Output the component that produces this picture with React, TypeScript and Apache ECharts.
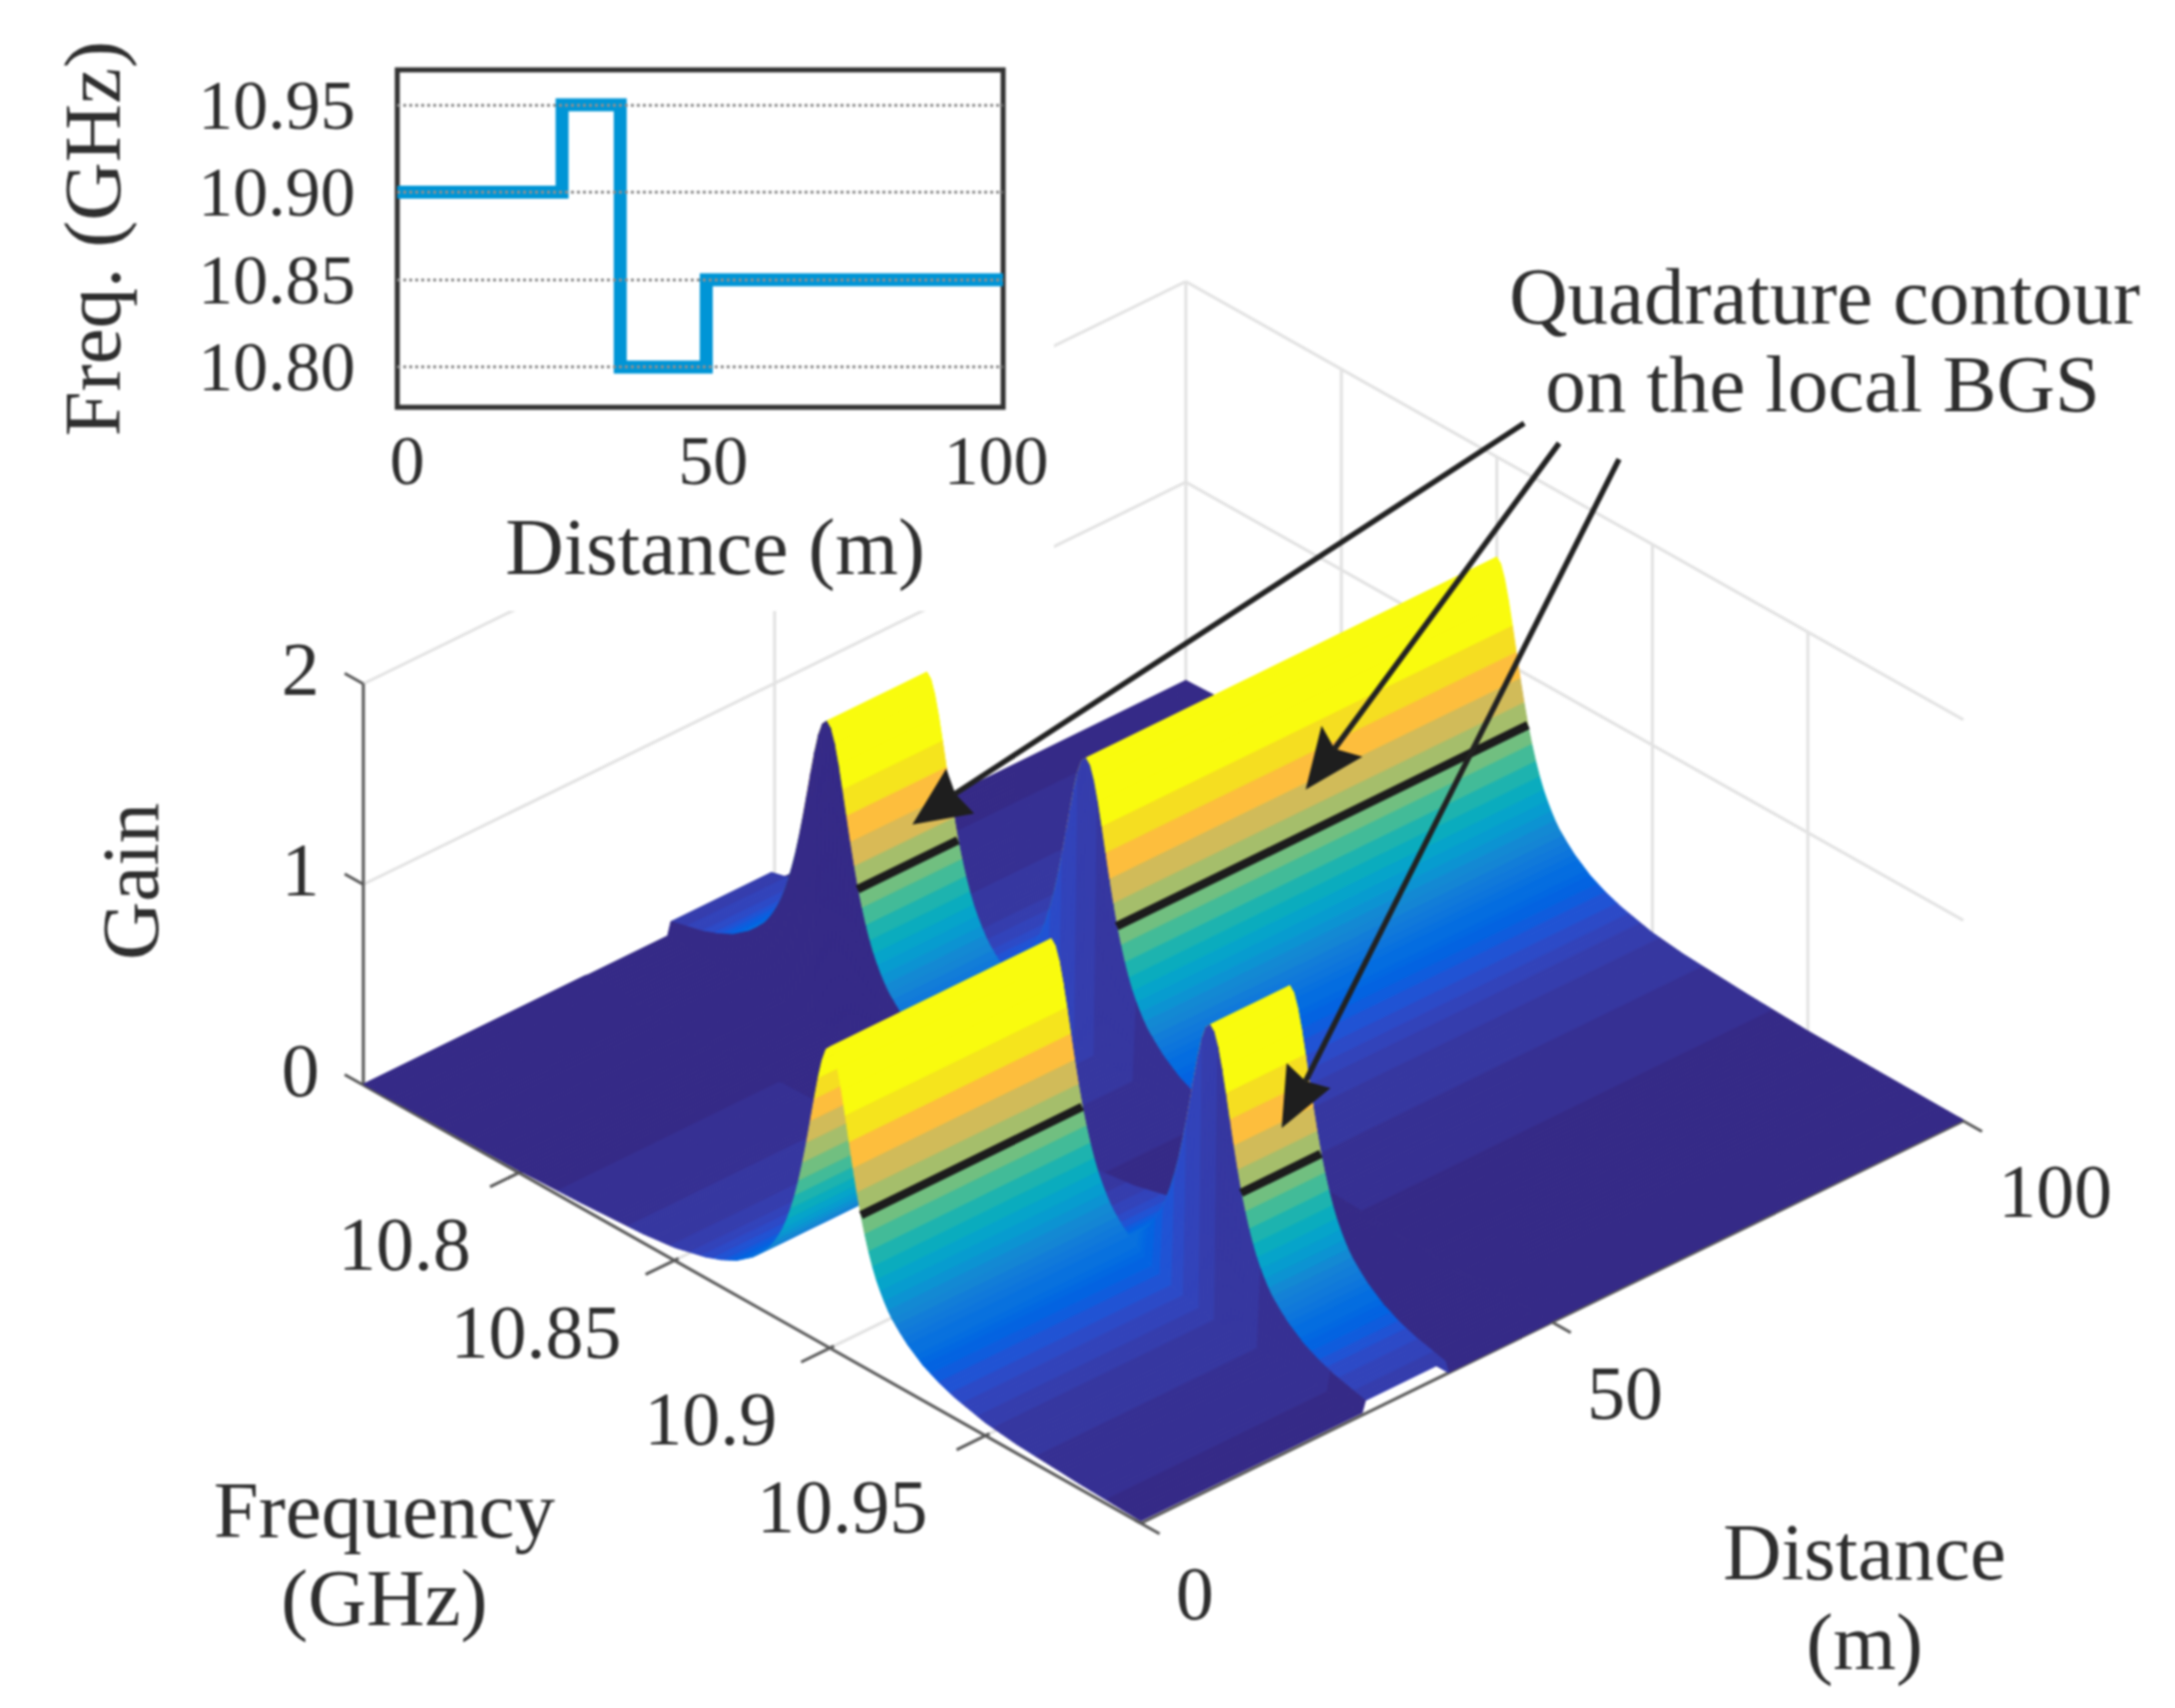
import React, { useEffect, useRef } from "react";
import * as echarts from "echarts";

// ---------- inset: local Brillouin frequency along the fibre ----------
const insetDistance = [0, 27.2, 36.8, 51, 100];
const insetFrequency = [10.9, 10.95, 10.8, 10.85, 10.85];
const insetFreqTicks = [10.8, 10.85, 10.9, 10.95];

// ---------- main surface: one row per fibre position ----------
const rowDistance = [0, 26.9, 27.3, 37, 37.4, 49.6, 50, 100];
const rowCentre = [10.9, 10.9, 10.95, 10.95, 10.8, 10.8, 10.85, 10.85];

// gain profile, against distance from the local centre frequency
const profileOffset = [
  0, 0.00125, 0.0025, 0.00375, 0.005, 0.00625, 0.0075, 0.00875, 0.01, 0.01125, 0.0125, 0.01375, 0.015,
  0.01625, 0.0175, 0.01875, 0.02, 0.0225, 0.025, 0.03, 0.035, 0.04, 0.05, 0.06, 0.08, 0.1, 0.15, 0.2,
];
const profileGain = [
  1.5, 1.477, 1.412, 1.315, 1.2, 1.079, 0.96, 0.85, 0.75, 0.665, 0.59, 0.525, 0.47,
  0.425, 0.385, 0.35, 0.32, 0.275, 0.235, 0.175, 0.135, 0.105, 0.065, 0.045, 0.025, 0.012, 0.005, 0.002,
];

// black quadrature contour segments
const contourStart = [0, 27.3, 37.4, 50];
const contourEnd = [26.9, 37, 49.6, 100];
const contourCentre = [10.9, 10.95, 10.8, 10.85];
const contourOffset = 0.01;
const contourGain = 0.75;

// 3D axis ticks
const freqTicks = [10.8, 10.85, 10.9, 10.95];
const freqTickLabels = ["10.8", "10.85", "10.9", "10.95"];
const freqLabelShift = [5, 0, 0, -5];
const distTicks = [0, 50, 100];
const gainTicks = [0, 1, 2];

const FREQ_MIN = 10.75;
const FREQ_MAX = 11.0;
const FREQ_COLUMNS = 200;
const COLOR_MAX = 1.28;

// MATLAB parula, 64 levels
const parula = [
  [.2081,.1663,.5292],[.2116,.1898,.5777],[.2123,.2138,.6270],[.2081,.2386,.6771],[.1959,.2645,.7279],[.1707,.2919,.7792],
  [.1253,.3242,.8303],[.0591,.3598,.8683],[.0117,.3875,.8820],[.0060,.4086,.8828],[.0165,.4266,.8786],[.0329,.4430,.8720],
  [.0498,.4586,.8641],[.0629,.4737,.8554],[.0723,.4887,.8467],[.0779,.5040,.8384],[.0793,.5200,.8312],[.0749,.5375,.8263],
  [.0641,.5570,.8240],[.0488,.5772,.8228],[.0343,.5966,.8199],[.0265,.6137,.8135],[.0239,.6287,.8038],[.0231,.6418,.7913],
  [.0228,.6535,.7768],[.0267,.6642,.7607],[.0384,.6743,.7436],[.0590,.6838,.7254],[.0843,.6928,.7062],[.1133,.7015,.6859],
  [.1453,.7098,.6646],[.1801,.7177,.6424],[.2178,.7250,.6193],[.2586,.7317,.5954],[.3022,.7376,.5712],[.3482,.7424,.5473],
  [.3953,.7459,.5244],[.4420,.7481,.5033],[.4871,.7491,.4840],[.5300,.7491,.4661],[.5709,.7485,.4494],[.6099,.7473,.4337],
  [.6473,.7456,.4188],[.6834,.7435,.4044],[.7184,.7411,.3905],[.7525,.7384,.3768],[.7858,.7356,.3633],[.8185,.7327,.3498],
  [.8507,.7299,.3360],[.8824,.7274,.3217],[.9139,.7258,.3063],[.9450,.7261,.2886],[.9739,.7314,.2666],[.9938,.7455,.2403],
  [.9990,.7653,.2164],[.9955,.7861,.1967],[.9880,.8066,.1794],[.9789,.8271,.1633],[.9697,.8481,.1475],[.9626,.8705,.1309],
  [.9589,.8949,.1132],[.9598,.9218,.0948],[.9661,.9514,.0755],[.9763,.9831,.0538],
];

const SERIF = "'Liberation Serif', 'Times New Roman', serif";
const INK = "#2e2e2e";
const GRID_LIGHT = "#e2e2e2";
const AXIS_DARK = "#5a5a5a";

function project(f: number, d: number, g: number): number[] {
  const pf = (f - FREQ_MIN) / (FREQ_MAX - FREQ_MIN);
  const pd = d / 100;
  return [364 + pf * 779 + pd * 824, 1087 + pf * 439 - pd * 403 - g * 201];
}

function gainAt(offset: number): number {
  const o = Math.abs(offset);
  for (let k = 1; k < profileOffset.length; k++) {
    if (o <= profileOffset[k] + 1e-9) {
      const t = (o - profileOffset[k - 1]) / (profileOffset[k] - profileOffset[k - 1]);
      return profileGain[k - 1] + t * (profileGain[k] - profileGain[k - 1]);
    }
  }
  return profileGain[profileGain.length - 1];
}

function colorOf(g: number): string {
  const idx = Math.max(0, Math.min(63, Math.floor((g / COLOR_MAX) * 64)));
  const c = parula[idx];
  return `rgb(${Math.round(c[0] * 255)},${Math.round(c[1] * 255)},${Math.round(c[2] * 255)})`;
}

function buildSurfaceItems(): number[][] {
  const items: number[][] = [];
  for (let r = rowDistance.length - 2; r >= 0; r--) {
    for (let c = 0; c < FREQ_COLUMNS; c++) items.push([r, c]);
  }
  return items;
}

function renderSurface(_p: any, api: any) {
  const r = api.value(0);
  const c = api.value(1);
  const step = (FREQ_MAX - FREQ_MIN) / FREQ_COLUMNS;
  const f0 = FREQ_MIN + c * step;
  const f1 = f0 + step;
  const d0 = rowDistance[r];
  const d1 = rowDistance[r + 1];
  const c0 = rowCentre[r];
  const c1 = rowCentre[r + 1];
  const a = gainAt(f0 - c0);
  const pts = [
    project(f0, d0, a),
    project(f1, d0, gainAt(f1 - c0)),
    project(f1, d1, gainAt(f1 - c1)),
    project(f0, d1, gainAt(f0 - c1)),
  ].map((p) => api.coord(p));
  const fill = colorOf(a);
  return { type: "polygon", shape: { points: pts }, style: { fill, stroke: fill, lineWidth: 1 } };
}

function renderFrame(_p: any, api: any) {
  const children: any[] = [];
  const seg = (a: number[], b: number[], stroke: string, lineWidth: number) => {
    const p = api.coord(a);
    const q = api.coord(b);
    children.push({
      type: "line",
      shape: { x1: p[0], y1: p[1], x2: q[0], y2: q[1] },
      style: { stroke, lineWidth },
    });
  };
  // back walls and floor grid
  for (const g of [1, 2]) {
    seg(project(FREQ_MIN, 0, g), project(FREQ_MIN, 100, g), GRID_LIGHT, 3);
    seg(project(FREQ_MIN, 100, g), project(FREQ_MAX, 100, g), GRID_LIGHT, 3);
  }
  for (const d of distTicks) {
    seg(project(FREQ_MIN, d, 0), project(FREQ_MIN, d, 2), GRID_LIGHT, 3);
    seg(project(FREQ_MIN, d, 0), project(FREQ_MAX, d, 0), GRID_LIGHT, 3);
  }
  for (const f of freqTicks) {
    seg(project(f, 100, 0), project(f, 100, 2), GRID_LIGHT, 3);
    seg(project(f, 0, 0), project(f, 100, 0), GRID_LIGHT, 3);
  }
  // the inset sits on a white panel that hides the grid behind it
  const tl = api.coord([0, 0]);
  const br = api.coord([1056, 612]);
  children.push({
    type: "rect",
    shape: { x: tl[0], y: tl[1], width: br[0] - tl[0], height: br[1] - tl[1] },
    style: { fill: "#ffffff" },
  });
  // axis lines
  seg(project(FREQ_MIN, 0, 0), project(FREQ_MAX, 0, 0), AXIS_DARK, 3);
  seg(project(FREQ_MAX, 0, 0), project(FREQ_MAX, 100, 0), AXIS_DARK, 3);
  seg(project(FREQ_MIN, 0, 0), project(FREQ_MIN, 0, 2), AXIS_DARK, 3);
  for (const f of freqTicks) seg(project(f, -3.5, 0), project(f, 0.5, 0), AXIS_DARK, 3);
  for (const d of distTicks) seg(project(FREQ_MAX - 0.002, d, 0), project(FREQ_MAX + 0.006, d, 0), AXIS_DARK, 3);
  for (const g of gainTicks) seg(project(FREQ_MIN - 0.006, 0, g), project(FREQ_MIN, 0, g), AXIS_DARK, 3);
  return { type: "group", children };
}

function renderContours(_p: any, api: any) {
  const i = api.value(0);
  const f = contourCentre[i] + contourOffset;
  const p = api.coord(project(f, contourStart[i], contourGain));
  const q = api.coord(project(f, contourEnd[i], contourGain));
  return {
    type: "line",
    shape: { x1: p[0], y1: p[1], x2: q[0], y2: q[1] },
    style: { stroke: "#1c1c1c", lineWidth: 8.5 },
  };
}

function renderTickLabels(_p: any, api: any) {
  const children: any[] = [];
  const label = (pos: number[], text: string, align: string, dx: number, dy: number) => {
    const p = api.coord(pos);
    children.push({
      type: "text",
      x: p[0] + dx,
      y: p[1] + dy,
      style: { text, align, verticalAlign: "middle", fontFamily: SERIF, fontSize: 76, fill: INK },
    });
  };
  freqTicks.forEach((f, i) => label(project(f, 0, 0), freqTickLabels[i], "right", -53 + freqLabelShift[i], 71));
  distTicks.forEach((d) => label(project(FREQ_MAX, d, 0), String(d), "left", 35, 70));
  gainTicks.forEach((g) => label(project(FREQ_MIN, 0, g), String(g), "right", -44, -15));
  return { type: "group", children };
}

function staticText(text: string, x: number, y: number, rotation = 0): any {
  return {
    type: "text",
    x,
    y,
    rotation,
    z: 20,
    style: { text, align: "center", verticalAlign: "middle", fontFamily: SERIF, fontSize: 81, fill: INK },
  };
}

function arrow(tail: number[], notch: number[], tip: number[], w1: number[], w2: number[]): any[] {
  return [
    {
      type: "line",
      z: 20,
      shape: { x1: tail[0], y1: tail[1], x2: notch[0], y2: notch[1] },
      style: { stroke: "#222222", lineWidth: 5.5 },
    },
    {
      type: "polygon",
      z: 21,
      shape: { points: [tip, w1, notch, w2] },
      style: { fill: "#1e1e1e" },
    },
  ];
}

export default function App() {
  const ref = useRef<HTMLDivElement>(null);
  useEffect(() => {
    document.body.style.margin = "0";
    const chart = echarts.init(ref.current!, undefined, { renderer: "svg" });
    const pixelAxis = (max: number, inverse: boolean) => ({
      type: "value",
      gridIndex: 1,
      min: 0,
      max,
      inverse,
      show: false,
    });
    chart.setOption({
      animation: false,
      backgroundColor: "#ffffff",
      grid: [
        {
          left: 398,
          top: 70,
          width: 607,
          height: 338,
          show: true,
          z: 5,
          backgroundColor: "#ffffff",
          borderColor: "#333333",
          borderWidth: 5,
        },
        { left: 0, top: 0, width: 2179, height: 1711 },
      ],
      xAxis: [
        {
          type: "value",
          gridIndex: 0,
          min: 0,
          max: 100,
          interval: 50,
          z: 7,
          name: "Distance (m)",
          nameLocation: "middle",
          nameGap: 99,
          nameTextStyle: { fontFamily: SERIF, fontSize: 81, color: INK, padding: [0, 0, 0, 30] },
          axisLine: { show: false },
          axisTick: { show: false },
          splitLine: { show: false },
          axisLabel: {
            margin: 18,
            fontFamily: SERIF,
            fontSize: 70,
            color: INK,
            formatter: (v: number) => (v === 0 ? `{a|0}` : v === 50 ? `{b|50}` : `{c|100}`),
            rich: {
              a: { fontFamily: SERIF, fontSize: 70, color: INK, padding: [0, 0, 0, 20] },
              b: { fontFamily: SERIF, fontSize: 70, color: INK, padding: [0, 0, 0, 26] },
              c: { fontFamily: SERIF, fontSize: 70, color: INK, padding: [0, 14, 0, 0] },
            },
          },
        },
        pixelAxis(2179, false),
      ],
      yAxis: [
        {
          type: "value",
          gridIndex: 0,
          min: 10.777,
          max: 10.97,
          z: 7,
          name: "Freq. (GHz)",
          nameLocation: "middle",
          nameGap: 265,
          nameTextStyle: { fontFamily: SERIF, fontSize: 81, color: INK },
          axisLine: { show: false },
          axisTick: { show: false, customValues: insetFreqTicks },
          splitLine: { show: true, lineStyle: { type: "dotted", color: "#8f8f8f", width: 3 } },
          axisLabel: {
            customValues: insetFreqTicks,
            margin: 42,
            fontFamily: SERIF,
            fontSize: 70,
            color: INK,
            formatter: (v: number) => v.toFixed(2),
          },
        },
        pixelAxis(1711, true),
      ],
      series: [
        {
          type: "line",
          xAxisIndex: 0,
          yAxisIndex: 0,
          z: 6,
          step: "end",
          symbol: "none",
          data: insetDistance.map((d, i) => [d, insetFrequency[i]]),
          lineStyle: { color: "#0095d6", width: 13, join: "miter", cap: "butt" },
        },
        {
          type: "custom",
          xAxisIndex: 1,
          yAxisIndex: 1,
          z: 1,
          silent: true,
          renderItem: renderFrame,
          data: [[0, 0]],
        },
        {
          type: "custom",
          xAxisIndex: 1,
          yAxisIndex: 1,
          z: 3,
          silent: true,
          progressive: 0,
          renderItem: renderSurface,
          data: buildSurfaceItems(),
        },
        {
          type: "custom",
          xAxisIndex: 1,
          yAxisIndex: 1,
          z: 4,
          silent: true,
          renderItem: renderContours,
          data: contourStart.map((_, i) => [i, 0]),
        },
        {
          type: "custom",
          xAxisIndex: 1,
          yAxisIndex: 1,
          z: 4,
          silent: true,
          renderItem: renderTickLabels,
          data: [[0, 0]],
        },
      ],
      graphic: {
        elements: [
          staticText("Gain", 131, 883, Math.PI / 2),
          staticText("Frequency", 385, 1513),
          staticText("(GHz)", 385, 1601),
          staticText("Distance", 1868, 1555),
          staticText("(m)", 1868, 1645),
          staticText("Quadrature contour", 1828, 297),
          staticText("on the local BGS", 1826, 385),
          ...arrow([1527, 424], [957, 795], [914, 826], [948, 770], [976, 815]),
          ...arrow([1562, 444], [1337, 750], [1308, 791], [1324, 727], [1365, 758]),
          ...arrow([1622, 460], [1308, 1083], [1284, 1130], [1289, 1065], [1333, 1090]),
        ],
      },
    });
    return () => chart.dispose();
  }, []);
  return (
    <div
      ref={ref}
      style={{ position: "absolute", left: 0, top: 0, width: 2179, height: 1711, filter: "blur(0.9px)" }}
    />
  );
}
